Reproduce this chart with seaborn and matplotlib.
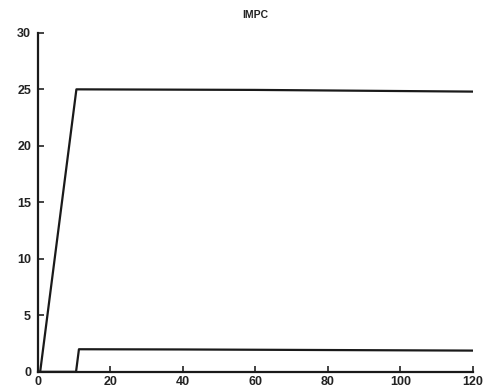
import pandas as pd
import matplotlib
matplotlib.use("Agg")
import matplotlib.pyplot as plt
import seaborn as sns

# Values
t_upper = [0, 0.6, 10.6, 60, 100, 120]
y_upper = [0, 0, 25.0, 24.95, 24.85, 24.8]
t_lower = [0, 10.5, 11.3, 40, 80, 120]
y_lower = [0, 0, 2.0, 1.98, 1.93, 1.88]
x_ticks = [0, 20, 40, 60, 80, 100, 120]
y_ticks = [0, 5, 10, 15, 20, 25, 30]

sns.set_style("ticks")
plt.rcParams['font.family'] = ['Liberation Sans', 'DejaVu Sans']

upper = pd.DataFrame({"t": t_upper, "v": y_upper})
lower = pd.DataFrame({"t": t_lower, "v": y_lower})

fig = plt.figure(figsize=(4.87, 3.91), dpi=100)
ax = fig.add_axes([0.078, 0.049, 0.893, 0.867])

sns.lineplot(data=upper, x="t", y="v", ax=ax, color="#1a1a1a", linewidth=1.6)
sns.lineplot(data=lower, x="t", y="v", ax=ax, color="#1a1a1a", linewidth=1.6)

ax.set_xlim(0, 120)
ax.set_ylim(0, 30)
ax.set_xticks(x_ticks)
ax.set_yticks(y_ticks)
ax.set_xlabel("")
ax.set_ylabel("")
ax.set_title("IMPC", fontsize=7.5, fontweight="bold", color="#222222", pad=11)
ax.tick_params(direction="in", length=4, width=1.2, labelsize=9, colors="#222222")
ax.tick_params(axis="y", pad=5)
ax.tick_params(axis="x", pad=3)
for lbl in ax.get_xticklabels() + ax.get_yticklabels():
    lbl.set_fontweight("bold")
for side in ["top", "right"]:
    ax.spines[side].set_visible(False)
for side in ["left", "bottom"]:
    ax.spines[side].set_linewidth(1.6)
    ax.spines[side].set_color("#1a1a1a")

fig.savefig("out.png", dpi=100)
